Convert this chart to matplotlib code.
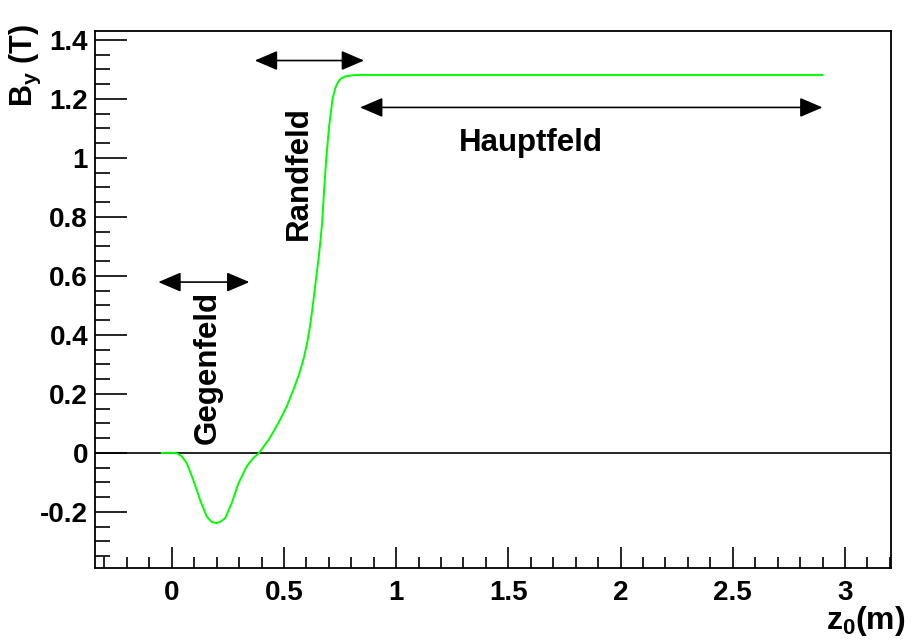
import matplotlib
matplotlib.use('Agg')
import matplotlib.pyplot as plt
from matplotlib.ticker import MultipleLocator, FuncFormatter

plt.rcParams['font.family'] = ['Liberation Sans', 'DejaVu Sans']
plt.rcParams['font.weight'] = 'bold'
plt.rcParams['axes.unicode_minus'] = False
plt.rcParams['mathtext.fontset'] = 'custom'
plt.rcParams['mathtext.rm'] = 'Liberation Sans:bold'
plt.rcParams['mathtext.it'] = 'Liberation Sans:bold'
plt.rcParams['mathtext.bf'] = 'Liberation Sans:bold'

# B_y entlang z0
z0 = [-0.045, 0.0, 0.022, 0.045, 0.067, 0.096, 0.126, 0.156, 0.178, 0.2, 0.22, 0.238,
      0.267, 0.297, 0.334, 0.36, 0.389, 0.41, 0.431, 0.453, 0.475, 0.512, 0.542, 0.569,
      0.59, 0.606, 0.618, 0.628, 0.637, 0.646, 0.655, 0.663, 0.670, 0.678, 0.688, 0.701,
      0.716, 0.728, 0.738, 0.752, 0.772, 0.80, 0.82, 1.0, 1.5, 2.0, 2.5, 2.9]
by = [0.0, 0.0, -0.001, -0.012, -0.035, -0.092, -0.159, -0.216, -0.234, -0.238, -0.232, -0.221,
      -0.171, -0.103, -0.046, -0.02, 0.0, 0.022, 0.044, 0.072, 0.101, 0.157, 0.214, 0.27,
      0.326, 0.383, 0.44, 0.496, 0.553, 0.609, 0.665, 0.722, 0.78, 0.88, 0.993, 1.106,
      1.197, 1.235, 1.253, 1.268, 1.276, 1.279, 1.281, 1.281, 1.281, 1.281, 1.281, 1.281]

# Bereiche: (Name, x links, x rechts, y Pfeil, Text x, Text y, Drehung)
regions = [
    ('Gegenfeld', -0.06, 0.346, 0.579, 0.162, 0.29, 90),
    ('Randfeld', 0.37, 0.857, 1.33, 0.567, 0.949, 90),
    ('Hauptfeld', 0.839, 2.90, 1.171, 1.60, 1.05, 0),
]

fig = plt.figure(figsize=(9.11, 6.41), dpi=100)
ax = fig.add_axes([0.1043, 0.1144, 0.978 - 0.1043, 0.9516 - 0.1144])

ax.axhline(0, color='black', lw=1.2)
ax.plot(z0, by, color='#00ff00', lw=1.4)

for name, x1, x2, ya, tx, ty, rot in regions:
    ax.annotate('', xy=(x1, ya), xytext=(x2, ya),
                arrowprops=dict(arrowstyle='<|-|>,head_length=1.4,head_width=0.6',
                                color='black', lw=1.2, shrinkA=0, shrinkB=0))
    ax.text(tx, ty, name, rotation=rot, ha='center', va='center',
            fontsize=22.5, fontweight='bold')

ax.set_xlim(-0.342, 3.205)
ax.set_ylim(-0.389, 1.43)
ax.xaxis.set_major_locator(MultipleLocator(0.5))
ax.xaxis.set_minor_locator(MultipleLocator(0.1))
ax.yaxis.set_major_locator(MultipleLocator(0.2))
ax.yaxis.set_minor_locator(MultipleLocator(0.05))
fmt = FuncFormatter(lambda v, p: '%g' % round(v, 2))
ax.xaxis.set_major_formatter(fmt)
ax.yaxis.set_major_formatter(fmt)

ax.tick_params(which='both', direction='in', top=False, right=False, width=1.2,
               labelsize=20)
ax.tick_params(axis='x', which='major', length=15, pad=9)
ax.tick_params(axis='x', which='minor', length=8)
ax.tick_params(axis='y', which='major', length=23, pad=5)
ax.tick_params(axis='y', which='minor', length=11)
for s in ax.spines.values():
    s.set_linewidth(1.3)
for lab in ax.get_xticklabels() + ax.get_yticklabels():
    lab.set_fontweight('bold')

fig.text(25 / 911, 1 - 24 / 641, '$B_{y}$ (T)', rotation=90, ha='center', va='top',
         fontsize=22, fontweight='bold')
fig.text(906 / 911, 1 - 638 / 641, '$z_{0}$(m)', ha='right', va='bottom',
         fontsize=23, fontweight='bold')

fig.savefig('out.png', dpi=100)
